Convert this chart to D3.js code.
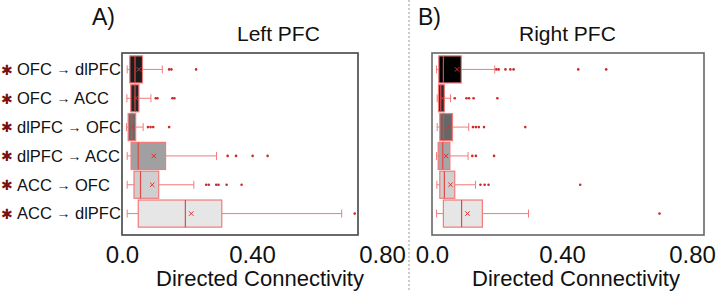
<!DOCTYPE html>
<html>
<head>
<meta charset="utf-8">
<script src="https://cdn.jsdelivr.net/npm/d3@7"></script>
<style>
  body { margin: 0; background: #fff; }
  svg { font-family: "Liberation Sans", Arial, Helvetica, sans-serif; }
</style>
</head>
<body>
<script>
// connections, top to bottom
const categories = ["OFC → dlPFC", "OFC → ACC", "dlPFC → OFC", "dlPFC → ACC", "ACC → OFC", "ACC → dlPFC"];
const tickValues = [0, 0.4, 0.8];
const tickLabels = ["0.0", "0.40", "0.80"];

// Left PFC box stats
const leftMin    = [0.016, 0.015, 0.014, 0.016, 0.016, 0.016];
const leftQ1     = [0.024, 0.027, 0.019, 0.028, 0.037, 0.050];
const leftMedian = [0.040, 0.040, 0.030, 0.050, 0.057, 0.195];
const leftQ3     = [0.063, 0.052, 0.042, 0.134, 0.113, 0.307];
const leftMax    = [0.124, 0.089, 0.065, 0.291, 0.221, 0.676];
const leftMean   = [0.052, 0.043, 0.033, 0.098, 0.093, 0.213];
const leftOutliers = [
  [0.145, 0.152, 0.228],
  [0.104, 0.109, 0.155, 0.161],
  [0.080, 0.088, 0.096, 0.145],
  [0.325, 0.351, 0.402, 0.448],
  [0.259, 0.267, 0.290, 0.297, 0.322, 0.368],
  [0.716]
];

// Right PFC box stats
const rightMin    = [0.014, 0.016, 0.016, 0.014, 0.015, 0.014];
const rightQ1     = [0.021, 0.020, 0.024, 0.019, 0.024, 0.035];
const rightMedian = [0.035, 0.027, 0.035, 0.033, 0.038, 0.091];
const rightQ3     = [0.090, 0.038, 0.063, 0.055, 0.070, 0.155];
const rightMax    = [0.193, 0.057, 0.113, 0.111, 0.134, 0.297];
const rightMean   = [0.077, 0.032, 0.050, 0.043, 0.057, 0.109];
const rightOutliers = [
  [0.198, 0.205, 0.226, 0.241, 0.251, 0.450, 0.536],
  [0.070, 0.106, 0.114, 0.128, 0.201],
  [0.126, 0.135, 0.144, 0.160, 0.287],
  [0.124, 0.135, 0.191],
  [0.149, 0.162, 0.174, 0.456],
  [0.700]
];

const leftFills  = ["#1c1c1c", "#262626", "#6b6b6b", "#a0a0a0", "#cfcfcf", "#e6e6e6"];
const rightFills = ["#000000", "#2b2b2b", "#676767", "#a6a6a6", "#d0d0d0", "#e6e6e6"];

const W = 720, H = 292;
const boxStroke = "#f27a7a";
const dotColor = "#cc2a2a";

const svg = d3.select("body").append("svg")
  .attr("width", W).attr("height", H);

// divider between panels
svg.append("line")
  .attr("x1", 409).attr("x2", 409).attr("y1", 0).attr("y2", H)
  .attr("stroke", "#aaa").attr("stroke-width", 1.2)
  .attr("stroke-dasharray", "2,2");

const y = d3.scaleBand()
  .domain(categories)
  .range([55, 228])
  .paddingInner(0.06)
  .paddingOuter(0.03);

// row labels
const lab = svg.append("g").selectAll("g")
  .data(categories)
  .enter().append("g")
  .attr("transform", d => "translate(0," + (y(d) + y.bandwidth() / 2) + ")");

lab.append("text")
  .attr("x", 1).attr("dy", "0.38em")
  .attr("font-family", "'DejaVu Sans', sans-serif")
  .attr("font-size", 14).attr("font-weight", "bold")
  .attr("fill", "#7a1010")
  .text("✱");

lab.append("text")
  .attr("x", 17).attr("dy", "0.35em")
  .attr("font-size", 16.5).attr("fill", "#111")
  .each(function(d) {
    const parts = d.split("→");
    const t = d3.select(this);
    t.append("tspan").text(parts[0]);
    t.append("tspan").attr("font-size", 14).attr("dy", -1).text("→");
    t.append("tspan").attr("dy", 1).text(parts[1]);
  });

function drawPanel(opt) {
  const x = d3.scaleLinear().domain([0, 0.8]).range([opt.left, opt.left + 260]);
  const g = svg.append("g");

  g.append("rect")
    .attr("x", opt.left).attr("y", 53)
    .attr("width", opt.right - opt.left).attr("height", 182)
    .attr("fill", "none").attr("stroke", opt.frame).attr("stroke-width", 1.6);

  const rows = g.selectAll("g.row")
    .data(categories)
    .enter().append("g").attr("class", "row")
    .attr("transform", d => "translate(0," + y(d) + ")");

  const bw = y.bandwidth();
  const mid = bw / 2;

  // whiskers
  rows.append("line")
    .attr("x1", (d, i) => x(opt.min[i])).attr("x2", (d, i) => x(opt.q1[i]))
    .attr("y1", mid).attr("y2", mid)
    .attr("stroke", boxStroke).attr("stroke-width", 1);
  rows.append("line")
    .attr("x1", (d, i) => x(opt.q3[i])).attr("x2", (d, i) => x(opt.max[i]))
    .attr("y1", mid).attr("y2", mid)
    .attr("stroke", boxStroke).attr("stroke-width", 1);
  rows.append("line")
    .attr("x1", (d, i) => x(opt.min[i])).attr("x2", (d, i) => x(opt.min[i]))
    .attr("y1", mid - 4).attr("y2", mid + 4)
    .attr("stroke", boxStroke).attr("stroke-width", 1);
  rows.append("line")
    .attr("x1", (d, i) => x(opt.max[i])).attr("x2", (d, i) => x(opt.max[i]))
    .attr("y1", mid - 4).attr("y2", mid + 4)
    .attr("stroke", boxStroke).attr("stroke-width", 1);

  // boxes
  rows.append("rect")
    .attr("x", (d, i) => x(opt.q1[i]))
    .attr("width", (d, i) => x(opt.q3[i]) - x(opt.q1[i]))
    .attr("y", 0).attr("height", bw)
    .attr("fill", (d, i) => opt.fills[i])
    .attr("stroke", boxStroke).attr("stroke-width", 1.2);

  // median
  rows.append("line")
    .attr("x1", (d, i) => x(opt.median[i])).attr("x2", (d, i) => x(opt.median[i]))
    .attr("y1", 0).attr("y2", bw)
    .attr("stroke", "#e04848").attr("stroke-width", 1.2);

  // mean marker
  rows.append("path")
    .attr("d", (d, i) => {
      const cx = x(opt.mean[i]), s = 2.2;
      return "M" + (cx - s) + "," + (mid - s) + "L" + (cx + s) + "," + (mid + s) +
        "M" + (cx - s) + "," + (mid + s) + "L" + (cx + s) + "," + (mid - s);
    })
    .attr("stroke", "#e03030").attr("stroke-width", 1);

  // outliers
  rows.selectAll("circle")
    .data((d, i) => opt.outliers[i])
    .enter().append("circle")
    .attr("cx", v => x(v)).attr("cy", mid)
    .attr("r", 1.3)
    .attr("fill", dotColor);

  // x axis
  const axis = d3.axisBottom(x)
    .tickValues(tickValues)
    .tickSize(0)
    .tickFormat((d, i) => tickLabels[i]);
  const ax = g.append("g")
    .attr("transform", "translate(0,243)")
    .call(axis);
  ax.select(".domain").remove();
  ax.selectAll("text")
    .attr("font-size", 24)
    .attr("font-family", "'Liberation Sans', Arial, sans-serif")
    .attr("fill", "#111");

  g.append("text")
    .attr("x", opt.labelX).attr("y", 286)
    .attr("text-anchor", "middle")
    .attr("font-size", 22).attr("fill", "#111")
    .text("Directed Connectivity");

  g.append("text")
    .attr("x", opt.titleX).attr("y", 41)
    .attr("font-size", 21).attr("fill", "#111")
    .text(opt.title);

  g.append("text")
    .attr("x", opt.tagX).attr("y", 25)
    .attr("font-size", 23).attr("fill", "#111")
    .text(opt.tag);
}

drawPanel({
  left: 122, right: 358, frame: "#444",
  min: leftMin, q1: leftQ1, median: leftMedian, q3: leftQ3, max: leftMax,
  mean: leftMean, outliers: leftOutliers, fills: leftFills,
  title: "Left PFC", titleX: 237, tag: "A)", tagX: 92, labelX: 260
});

drawPanel({
  left: 432, right: 704, frame: "#666",
  min: rightMin, q1: rightQ1, median: rightMedian, q3: rightQ3, max: rightMax,
  mean: rightMean, outliers: rightOutliers, fills: rightFills,
  title: "Right PFC", titleX: 519, tag: "B)", tagX: 418, labelX: 576
});
</script>
</body>
</html>
